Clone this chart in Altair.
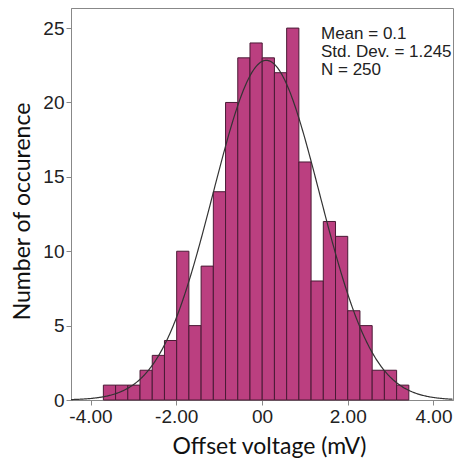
import altair as alt
import pandas as pd
import json

# Histogram data
bin_edges = [-3.700, -3.415, -3.130, -2.845, -2.560, -2.275, -1.990, -1.705,
             -1.420, -1.135, -0.850, -0.565, -0.280, 0.005, 0.290, 0.575,
             0.860, 1.145, 1.430, 1.715, 2.000, 2.285, 2.570, 2.855, 3.140, 3.425]
counts = [1, 1, 1, 2, 3, 4, 10, 5, 9, 14, 20, 23, 24, 23, 22, 25,
          16, 8, 12, 11, 6, 5, 2, 2, 1]

# Fitted normal curve parameters (shown in the legend text)
mean = 0.1
std = 1.245
n_obs = 250
bin_width = 0.285

x_ticks = [-4, -2, 0, 2, 4]
x_tick_labels = ["-4.00", "-2.00", "00", "2.00", "4.00"]
y_ticks = [0, 5, 10, 15, 20, 25]
stats_lines = ["Mean = 0.1", "Std. Dev. = 1.245", "N = 250"]

x_domain = [-4.455, 4.455]
y_domain = [0, 26.35]

bars_df = pd.DataFrame({
    "lo": bin_edges[:-1],
    "hi": bin_edges[1:],
    "count": counts,
})

label_expr = f"{json.dumps(x_tick_labels)}[indexof({json.dumps(x_ticks)}, datum.value)]"

x_scale = alt.Scale(domain=x_domain, nice=False, zero=False)
y_scale = alt.Scale(domain=y_domain, nice=False)

x_axis = alt.Axis(
    values=x_ticks, labelExpr=label_expr, title="Offset voltage (mV)",
    grid=False, tickSize=5, labelPadding=2, titlePadding=9, titleX=198,
)
y_axis = alt.Axis(
    values=y_ticks, format="d", title="Number of occurence",
    grid=False, tickSize=5, labelPadding=2, titlePadding=8, titleY=203,
)

bars = alt.Chart(bars_df).mark_rect(
    color="#BB3F80", stroke="#4a1a35", strokeWidth=1
).encode(
    x=alt.X("lo:Q", scale=x_scale, axis=x_axis),
    x2="hi:Q",
    y=alt.Y("count:Q", scale=y_scale, axis=y_axis),
    y2=alt.datum(0),
)

curve = alt.Chart(alt.sequence(x_domain[0], x_domain[1] + 0.001, 0.02, as_="x")).transform_calculate(
    y=f"{n_obs}*{bin_width}*exp(-0.5*pow((datum.x-{mean})/{std},2))/({std}*sqrt(2*PI))"
).mark_line(color="#333333", strokeWidth=1.2).encode(
    x=alt.X("x:Q", scale=x_scale, axis=x_axis),
    y=alt.Y("y:Q", scale=y_scale, axis=y_axis),
)

stats = alt.Chart(pd.DataFrame({"t": ["\n".join(stats_lines)]})).mark_text(
    align="left", baseline="top", font="Liberation Sans", fontSize=17,
    lineHeight=18, color="#222222", lineBreak="\n",
).encode(
    x=alt.value(250), y=alt.value(18), text="t:N",
)

chart = alt.layer(bars, curve, stats).properties(
    width=382, height=392,
    padding={"left": 3, "top": 0, "right": 0, "bottom": 0},
    background="white",
).configure_view(
    stroke="#888888", strokeWidth=1,
).configure_axis(
    domainColor="#888888", tickColor="#888888",
    labelFont="Liberation Sans", labelFontSize=19, labelColor="#222222",
    titleFont="Lato", titleFontSize=23, titleFontWeight="normal", titleColor="#111111",
)

chart.save("out.html", embed_options={"renderer": "svg", "actions": False})
